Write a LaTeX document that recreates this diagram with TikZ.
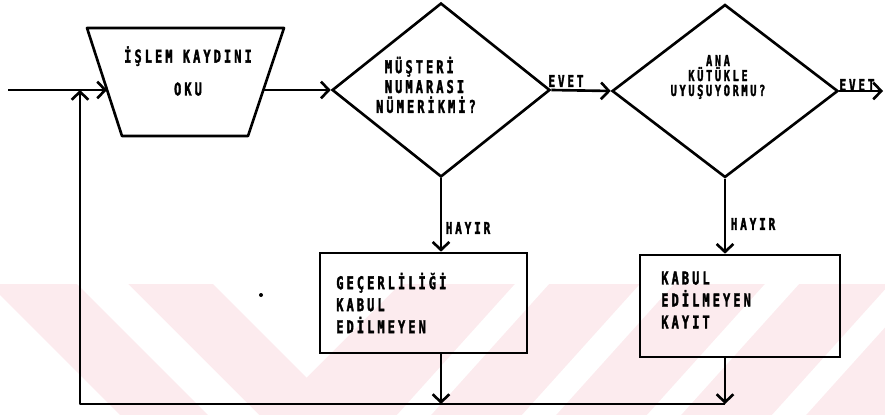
\documentclass[tikz,border=0pt]{standalone}
\usepackage{fontspec}
\usetikzlibrary{shapes.geometric,arrows.meta,calc}
\newfontfamily\plotfont[FakeStretch=0.68,LetterSpace=17.6,FakeBold=2]{DejaVu Sans Mono}
\definecolor{wmpink}{RGB}{252,235,238}

\begin{document}
\begin{tikzpicture}[x=0.02cm,y=-0.02cm,
  line width=1.5pt,
  >={Straight Barb[length=4.5pt,width=9.5pt]},
  txt/.style={font=\plotfont\bfseries\fontsize{10}{12.5}\selectfont, inner sep=0pt},
  tag/.style={font=\plotfont\bfseries\fontsize{9.2}{11}\selectfont, inner sep=0pt},
  decision/.style={draw, diamond, inner sep=0pt},
  procbox/.style={draw, rectangle, inner sep=0pt}]

\useasboundingbox (0,0) rectangle (885,415);

% background stripes
\fill[wmpink] (0,284) rectangle (885,415);
\fill[white] (0,295) -- (0,415) -- (120,415) -- cycle;
\fill[white] (77,284) -- (128,284) -- (259,415) -- (208,415) -- cycle;
\fill[white] (213,284) -- (400,284) -- (306.5,377.5) -- cycle;
\foreach \xt in {515,640,765,890}
  \fill[white] (\xt,284) -- (\xt+34,284) -- (\xt-84,415) -- (\xt-118,415) -- cycle;

% read step (trapezoid)
\coordinate (tA) at (87,28);
\coordinate (tB) at (284,28);
\coordinate (tC) at (248,136);
\coordinate (tD) at (122,136);
\draw[line join=round] (tA) -- (tB) -- (tC) -- (tD) -- cycle;
\node[txt, align=center, font=\plotfont\bfseries\fontsize{10}{18.7}\selectfont] (rd) at (188,71) {İŞLEM KAYDINI\\OKU};
\coordinate (rdL) at (107,90);
\coordinate (rdR) at (263,90);

% decisions
\node[decision, minimum width=4.36cm, minimum height=3.48cm] (d1) at (441,90) {};
\node[txt, align=left, font=\plotfont\bfseries\fontsize{10}{11.3}\selectfont] (d1t) at (426,85)
  {\hspace*{5pt}MÜŞTERİ\\\hspace*{5pt}NUMARASI\\NÜMERİKMİ?};
\node[decision, minimum width=4.52cm, minimum height=3.46cm] (d2) at (725,91) {};
\node[txt, align=center, font=\plotfont\bfseries\fontsize{8.6}{8.5}\selectfont] (d2t) at (718,77)
  {ANA\\KÜTÜKLE\\UYUŞUYORMU?};

% rejection boxes
\node[procbox, minimum width=4.14cm, minimum height=2.0cm] (b1) at (423.5,303) {};
\node[txt, align=left, anchor=west] (b1t) at (335,303) {GEÇERLİLİĞİ\\KABUL\\EDİLMEYEN};
\node[procbox, minimum width=4.0cm, minimum height=2.04cm] (b2) at (740,306) {};
\node[txt, align=left, anchor=west] (b2t) at (660,300) {KABUL\\EDİLMEYEN\\KAYIT};

% connectors
\coordinate (in) at (8,90);
\coordinate (out) at (883,91);
\coordinate (jl) at (80,404);
\coordinate (jin) at (80,90);
\coordinate (jr) at (d2.south |- jl);

\draw[->] (in) -- (rdL);
\draw[->] (rdR) -- (d1.west);
\draw[->] (d1.east) -- (d2.west);
\draw[->] (d2.east) -- (out);
\draw[->] (d1.south) -- (d1.south |- b1.north);
\draw[->] (d2.south) -- (d2.south |- b2.north);
\draw[->] (d1.south |- b1.south) -- (d1.south |- jl);
\draw[->] (d2.south |- b2.south) -- (jr);
\draw[->, line join=round] (jr) -- (jl) -- (jin);

% branch labels
\node[tag] (e1) at (566,81) {EVET};
\node[tag] (e2) at (857,85) {EVET};
\node[tag] (h1) at (468,228) {HAYIR};
\node[tag] (h2) at (753,224) {HAYIR};

% stray mark
\fill (261,295) circle (2);
\end{tikzpicture}
\end{document}
